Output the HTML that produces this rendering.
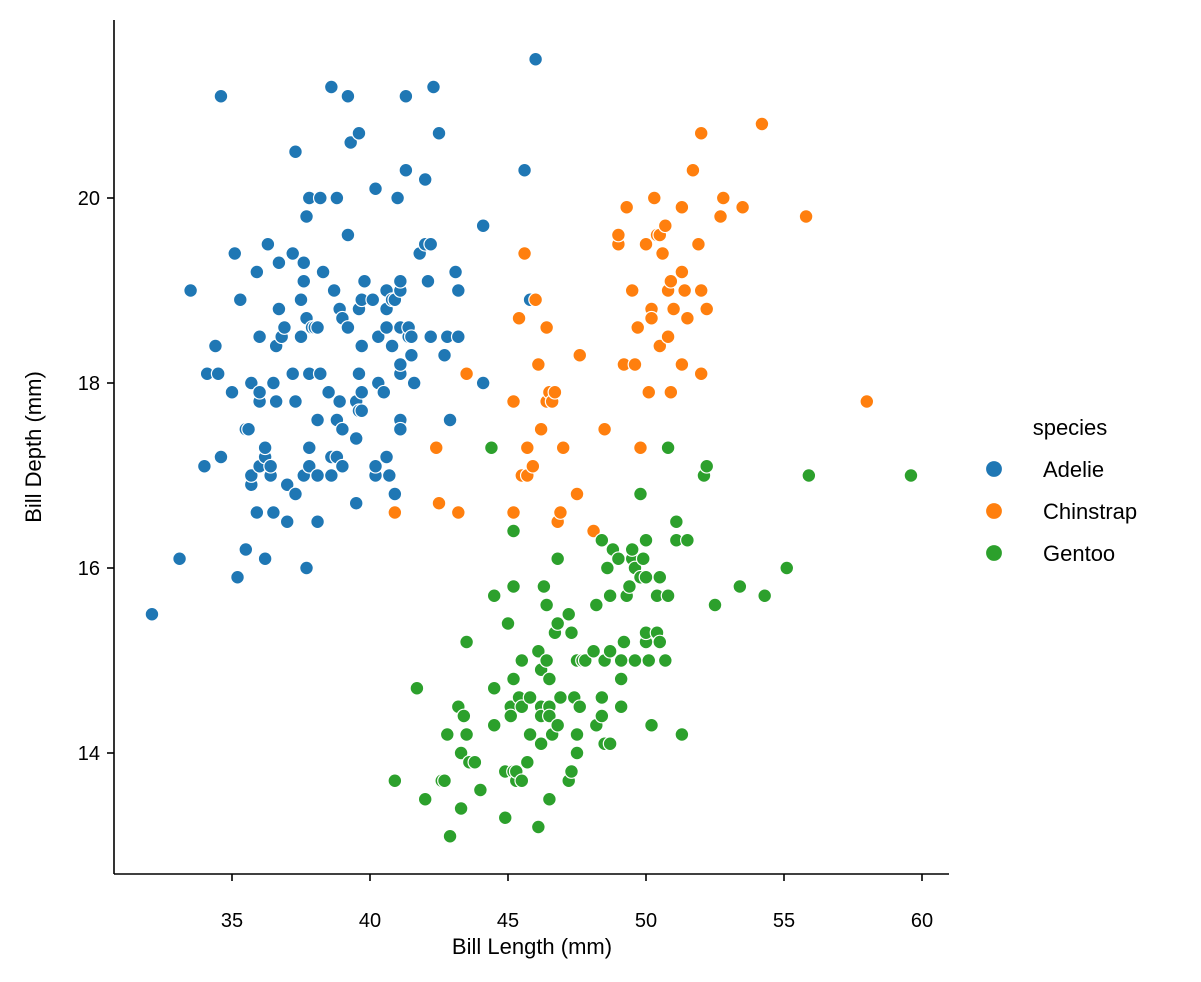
<!DOCTYPE html>
<html><head><meta charset="utf-8"><style>
html,body{margin:0;padding:0;background:#fff;}
svg{display:block;font-family:"Liberation Sans","DejaVu Sans",sans-serif;}
</style></head><body>
<svg id="chart" width="1201" height="982" viewBox="0 0 1201 982" xmlns="http://www.w3.org/2000/svg">
<g id="marks"></g>
<line x1="114" y1="20" x2="114" y2="874" stroke="#000" stroke-width="1.6"/>
<line x1="114" y1="874" x2="949" y2="874" stroke="#000" stroke-width="1.6"/>
<g id="xticks"></g>
<g id="yticks"></g>
<text x="532" y="954" font-size="22" text-anchor="middle">Bill Length (mm)</text>
<text transform="translate(41,447) rotate(-90)" font-size="22" text-anchor="middle">Bill Depth (mm)</text>
<g id="legend">
<text x="1070" y="435" font-size="22" text-anchor="middle">species</text>
</g>
</svg>
<script>
const xTicks=[35,40,45,50,55,60];
const yTicks=[14,16,18,20];
const speciesNames=["Adelie","Chinstrap","Gentoo"];
const speciesColors=["#1f77b4","#ff7f0e","#2ca02c"];
const adelieX=[32.1,33.1,33.5,34.0,34.1,34.4,34.5,34.6,34.6,35.0,35.1,35.2,35.3,35.5,35.5,35.6,35.7,35.7,35.7,35.9,35.9,36.0,36.0,36.0,36.0,36.2,36.2,36.2,36.3,36.4,36.4,36.5,36.5,36.6,36.6,36.7,36.7,36.8,36.9,37.0,37.0,37.2,37.2,37.3,37.3,37.3,37.5,37.5,37.6,37.6,37.6,37.7,37.7,37.7,37.8,37.8,37.8,37.8,37.9,38.0,38.1,38.1,38.1,38.1,38.2,38.2,38.3,38.5,38.6,38.6,38.6,38.7,38.8,38.8,38.8,38.9,38.9,39.0,39.0,39.0,39.2,39.2,39.2,39.3,39.5,39.5,39.5,39.6,39.6,39.6,39.6,39.7,39.7,39.7,39.7,39.8,40.1,40.2,40.2,40.2,40.3,40.3,40.5,40.6,40.6,40.6,40.6,40.7,40.8,40.8,40.9,40.9,41.0,41.1,41.1,41.1,41.1,41.1,41.1,41.1,41.3,41.3,41.4,41.4,41.5,41.5,41.6,41.8,42.0,42.0,42.1,42.2,42.2,42.3,42.5,42.7,42.8,42.9,43.1,43.2,43.2,44.1,44.1,45.6,45.8,46.0];
const adelieY=[15.5,16.1,19.0,17.1,18.1,18.4,18.1,21.1,17.2,17.9,19.4,15.9,18.9,17.5,16.2,17.5,16.9,17.0,18.0,19.2,16.6,17.8,17.9,18.5,17.1,17.2,17.3,16.1,19.5,17.0,17.1,18.0,16.6,17.8,18.4,18.8,19.3,18.5,18.6,16.9,16.5,18.1,19.4,20.5,16.8,17.8,18.9,18.5,17.0,19.1,19.3,18.7,16.0,19.8,20.0,17.3,18.1,17.1,18.6,18.6,17.0,16.5,18.6,17.6,18.1,20.0,19.2,17.9,21.2,17.2,17.0,19.0,17.2,20.0,17.6,18.8,17.8,17.5,18.7,17.1,21.1,19.6,18.6,20.6,16.7,17.8,17.4,17.7,18.8,20.7,18.1,18.4,17.7,18.9,17.9,19.1,18.9,17.0,20.1,17.1,18.0,18.5,17.9,18.6,18.8,19.0,17.2,17.0,18.4,18.9,16.8,18.9,20.0,17.6,19.0,18.6,17.5,18.1,18.2,19.1,20.3,21.1,18.5,18.6,18.3,18.5,18.0,19.4,20.2,19.5,19.1,18.5,19.5,21.2,20.7,18.3,18.5,17.6,19.2,18.5,19.0,19.7,18.0,20.3,18.9,21.5];
const chinstrapX=[40.9,42.4,42.5,43.2,43.5,45.2,45.2,45.4,45.5,45.6,45.7,45.7,45.9,46.0,46.1,46.2,46.4,46.4,46.5,46.6,46.7,46.8,46.9,47.0,47.5,47.6,48.1,48.5,49.0,49.0,49.2,49.3,49.5,49.6,49.7,49.8,50.0,50.1,50.2,50.2,50.3,50.4,50.5,50.5,50.6,50.7,50.8,50.8,50.9,50.9,51.0,51.3,51.3,51.3,51.4,51.5,51.7,51.9,52.0,52.0,52.0,52.2,52.7,52.8,53.5,54.2,55.8,58.0];
const chinstrapY=[16.6,17.3,16.7,16.6,18.1,17.8,16.6,18.7,17.0,19.4,17.3,17.0,17.1,18.9,18.2,17.5,18.6,17.8,17.9,17.8,17.9,16.5,16.6,17.3,16.8,18.3,16.4,17.5,19.5,19.6,18.2,19.9,19.0,18.2,18.6,17.3,19.5,17.9,18.8,18.7,20.0,19.6,18.4,19.6,19.4,19.7,18.5,19.0,19.1,17.9,18.8,19.2,18.2,19.9,19.0,18.7,20.3,19.5,18.1,19.0,20.7,18.8,19.8,20.0,19.9,20.8,19.8,17.8];
const gentooX=[40.9,41.7,42.0,42.6,42.7,42.8,42.9,43.2,43.3,43.3,43.4,43.5,43.5,43.6,43.8,44.0,44.4,44.5,44.5,44.5,44.9,44.9,45.0,45.1,45.1,45.2,45.2,45.2,45.2,45.3,45.3,45.4,45.5,45.5,45.5,45.7,45.8,45.8,46.1,46.1,46.2,46.2,46.2,46.2,46.3,46.4,46.4,46.5,46.5,46.5,46.5,46.6,46.7,46.8,46.8,46.8,46.9,47.2,47.2,47.3,47.3,47.4,47.5,47.5,47.5,47.6,47.7,47.8,48.1,48.2,48.2,48.4,48.4,48.4,48.5,48.5,48.6,48.7,48.7,48.7,48.8,49.0,49.1,49.1,49.1,49.2,49.3,49.4,49.5,49.5,49.6,49.6,49.8,49.8,49.9,50.0,50.0,50.0,50.0,50.1,50.2,50.4,50.4,50.5,50.5,50.7,50.8,50.8,51.1,51.1,51.3,51.5,52.1,52.2,52.5,53.4,54.3,55.1,55.9,59.6];
const gentooY=[13.7,14.7,13.5,13.7,13.7,14.2,13.1,14.5,14.0,13.4,14.4,14.2,15.2,13.9,13.9,13.6,17.3,14.3,15.7,14.7,13.3,13.8,15.4,14.5,14.4,13.8,14.8,15.8,16.4,13.7,13.8,14.6,13.7,14.5,15.0,13.9,14.6,14.2,13.2,15.1,14.5,14.1,14.4,14.9,15.8,15.0,15.6,14.5,13.5,14.4,14.8,14.2,15.3,14.3,15.4,16.1,14.6,13.7,15.5,13.8,15.3,14.6,14.2,14.0,15.0,14.5,15.0,15.0,15.1,14.3,15.6,14.4,14.6,16.3,14.1,15.0,16.0,14.1,15.1,15.7,16.2,16.1,14.5,14.8,15.0,15.2,15.7,15.8,16.1,16.2,15.0,16.0,15.9,16.8,16.1,15.2,15.3,15.9,16.3,15.0,14.3,15.3,15.7,15.2,15.9,15.0,15.7,17.3,16.3,16.5,14.2,16.3,17.0,17.1,15.6,15.8,15.7,16.0,17.0,17.0];
const seriesX=[adelieX,chinstrapX,gentooX];
const seriesY=[adelieY,chinstrapY,gentooY];

const NS="http://www.w3.org/2000/svg";
function xs(v){return 232+(v-35)*27.6;}
function ys(v){return 198+(20-v)*92.5;}
const marks=document.getElementById('marks');
seriesX.forEach((arr,s)=>{
  const g=document.createElementNS(NS,'g');
  
  
  arr.forEach((xv,i)=>{
    const c=document.createElementNS(NS,'circle');
    
    
    c.setAttribute('cx',xs(xv));c.setAttribute('cy',ys(seriesY[s][i]));
    c.setAttribute('r',6.8);c.setAttribute('fill',speciesColors[s]);
    c.setAttribute('stroke','#fff');c.setAttribute('stroke-width',1.2);
    g.appendChild(c);
  });
  marks.appendChild(g);
});
const xt=document.getElementById('xticks');
xTicks.forEach(t=>{
  const l=document.createElementNS(NS,'line');
  
  
  l.setAttribute('x1',xs(t));l.setAttribute('x2',xs(t));l.setAttribute('y1',874);l.setAttribute('y2',881);l.setAttribute('stroke','#000');l.setAttribute('stroke-width',1.6);
  xt.appendChild(l);
  const tx=document.createElementNS(NS,'text');
  
  
  tx.setAttribute('x',xs(t));tx.setAttribute('y',927);tx.setAttribute('font-size',20);tx.setAttribute('text-anchor','middle');
  tx.textContent=t;xt.appendChild(tx);
});
const yt=document.getElementById('yticks');
yTicks.forEach(t=>{
  const l=document.createElementNS(NS,'line');
  
  
  l.setAttribute('x1',107);l.setAttribute('x2',114);l.setAttribute('y1',ys(t));l.setAttribute('y2',ys(t));l.setAttribute('stroke','#000');l.setAttribute('stroke-width',1.6);
  yt.appendChild(l);
  const tx=document.createElementNS(NS,'text');
  
  
  tx.setAttribute('x',100);tx.setAttribute('y',ys(t)+7);tx.setAttribute('font-size',20);tx.setAttribute('text-anchor','end');
  tx.textContent=t;yt.appendChild(tx);
});
const lg=document.getElementById('legend');
speciesNames.forEach((n,i)=>{
  const y=469+i*42;
  const c=document.createElementNS(NS,'circle');
  
  
  c.setAttribute('cx',994);c.setAttribute('cy',y);c.setAttribute('r',8.5);c.setAttribute('fill',speciesColors[i]);c.setAttribute('stroke','#fff');c.setAttribute('stroke-width',1.2);
  lg.appendChild(c);
  const t=document.createElementNS(NS,'text');
  
  
  t.setAttribute('x',1043);t.setAttribute('y',y+8);t.setAttribute('font-size',22);
  t.textContent=n;lg.appendChild(t);
});
</script>
</body></html>
